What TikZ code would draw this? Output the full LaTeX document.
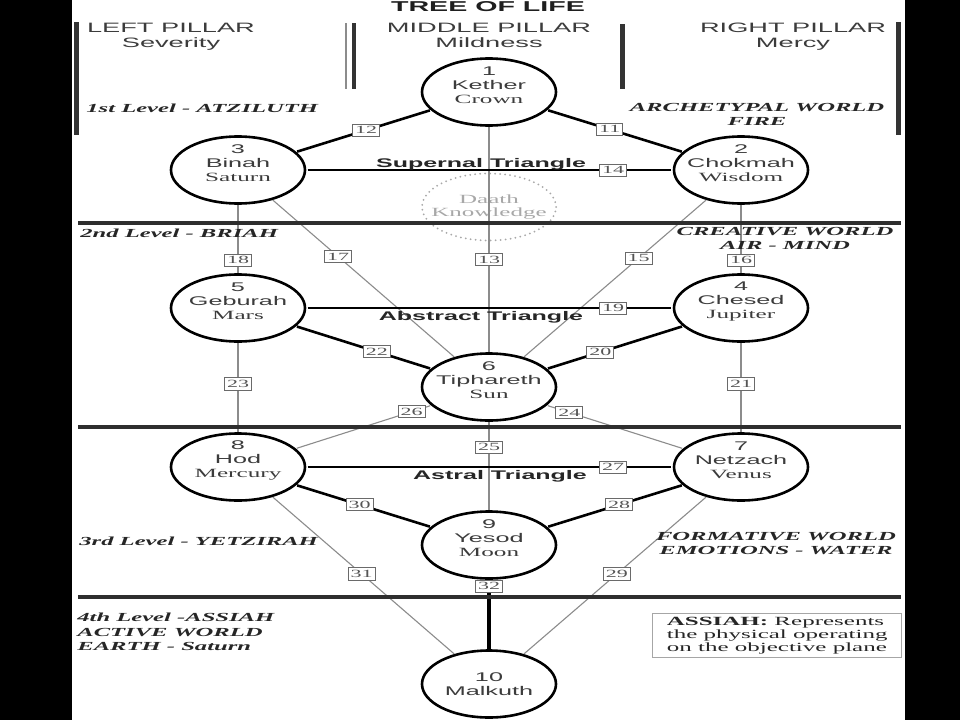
\documentclass[tikz,border=0pt]{standalone}
\usepackage{fontspec}
\setmainfont{Liberation Serif}
\setsansfont{Liberation Sans}
\usepackage{xcolor}
\usepackage{tikz}
\usetikzlibrary{calc, positioning}

\definecolor{inkgray}{HTML}{3C3C3C}
\definecolor{softgray}{HTML}{555555}
\definecolor{pathgray}{HTML}{8C8C8C}
\definecolor{boxgray}{HTML}{6A6A6A}
\definecolor{daathgray}{HTML}{A8A8A8}

\begin{document}
\begin{tikzpicture}[x=1pt, y=-1pt,
    every node/.style={xscale=2},
    sephirah/.style={circle, draw=black, fill=white, line width=2.6pt,
        minimum size=67pt, inner sep=0pt},
    sephname/.style={align=center, inner sep=0pt, text=inkgray,
        font=\sffamily\fontsize{12.6}{14}\selectfont},
    daathring/.style={circle, draw=daathgray, line width=2pt,
        dash pattern=on 0pt off 5pt, line cap=round, minimum size=67pt,
        inner sep=0pt, align=center, text=daathgray,
        font=\rmfamily\fontsize{12.5}{13.5}\selectfont},
    pathno/.style={draw=boxgray, fill=white, line width=0.8pt,
        inner xsep=1.2pt, inner ysep=2.4pt, text=softgray,
        font=\rmfamily\fontsize{11}{11}\selectfont},
    mainpath/.style={line width=2.6pt, black},
    sidepath/.style={line width=1.1pt, pathgray},
    levelline/.style={line width=4.5pt, black!82},
    pillarbar/.style={line width=5pt, black!80},
    pillartitle/.style={align=center, inner sep=0pt, text=inkgray,
        font=\sffamily\fontsize{13.6}{14.5}\selectfont},
    levelname/.style={align=left, inner sep=0pt, text=black!85,
        font=\rmfamily\bfseries\itshape\fontsize{12.3}{14.5}\selectfont},
    worldname/.style={levelname, align=center},
    triname/.style={inner sep=0pt, text=black!85,
        font=\sffamily\bfseries\fontsize{12.5}{14}\selectfont}
]

    % =================================================================
    % 1. PAGE AND MARGINS
    % =================================================================
    \useasboundingbox (0,0) rectangle (960,720);
    \fill[black] (0,0) rectangle (960,720);
    \fill[white] (72,0) rectangle (905,720);

    % =================================================================
    % 2. THE SEPHIROTH
    % =================================================================
    \node[sephirah] (kether)    at (489,92)  {};
    \node[sephirah] (binah)     at (238,170) {};
    \node[sephirah] (chokmah)   at (741,170) {};
    \node[sephirah] (geburah)   at (238,308) {};
    \node[sephirah] (chesed)    at (741,308) {};
    \node[sephirah] (tiphareth) at (489,387) {};
    \node[sephirah] (hod)       at (238,467) {};
    \node[sephirah] (netzach)   at (741,467) {};
    \node[sephirah] (yesod)     at (489,545) {};
    \node[sephirah] (malkuth)   at (489,684) {};
    \node[daathring] (daath)    at (489,207) {Daath\\Knowledge};

    % names written inside the circles
    \node[sephname] (kether-txt)    at ([yshift=6.6pt]kether)    {1\\Kether\\{\rmfamily Crown}};
    \node[sephname] (binah-txt)     at ([yshift=6.6pt]binah)     {3\\Binah\\{\rmfamily Saturn}};
    \node[sephname] (chokmah-txt)   at ([yshift=6.6pt]chokmah)   {2\\Chokmah\\{\rmfamily Wisdom}};
    \node[sephname] (geburah-txt)   at ([yshift=6.6pt]geburah)   {5\\Geburah\\{\rmfamily Mars}};
    \node[sephname] (chesed-txt)    at ([yshift=6.6pt]chesed)    {4\\Chesed\\{\rmfamily Jupiter}};
    \node[sephname] (tiphareth-txt) at ([yshift=6.6pt]tiphareth) {6\\Tiphareth\\{\rmfamily Sun}};
    \node[sephname] (hod-txt)       at ([yshift=6.6pt]hod)       {8\\Hod\\{\rmfamily Mercury}};
    \node[sephname] (netzach-txt)   at ([yshift=6.6pt]netzach)   {7\\Netzach\\{\rmfamily Venus}};
    \node[sephname] (yesod-txt)     at ([yshift=6.6pt]yesod)     {9\\Yesod\\{\rmfamily Moon}};
    \node[sephname] (malkuth-txt)   at (malkuth)                 {10\\Malkuth};

    % =================================================================
    % 3. THE PATHS
    % =================================================================
    % thin grey paths
    \draw[sidepath] (kether) -- node[pathno, pos=.59] (p13) {13} (tiphareth);
    \draw[sidepath] (binah) -- node[pathno, pos=.36] (p17) {17} (tiphareth);
    \draw[sidepath] (chokmah) -- node[pathno, pos=.37] (p15) {15} (tiphareth);
    \draw[sidepath] (binah) -- node[pathno, pos=.81] (p18) {18} (geburah);
    \draw[sidepath] (chokmah) -- node[pathno, pos=.81] (p16) {16} (chesed);
    \draw[sidepath] (geburah) -- node[pathno, pos=.46] (p23) {23} (hod);
    \draw[sidepath] (chesed) -- node[pathno, pos=.46] (p21) {21} (netzach);
    \draw[sidepath] (tiphareth) -- node[pathno, pos=.14] (p26) {26} (hod);
    \draw[sidepath] (tiphareth) -- node[pathno, pos=.16] (p24) {24} (netzach);
    \draw[sidepath] (tiphareth) -- node[pathno, pos=.285] (p25) {25} (yesod);
    \draw[sidepath] (hod) -- node[pathno, pos=.49] (p31) {31} (malkuth);
    \draw[sidepath] (netzach) -- node[pathno, pos=.49] (p29) {29} (malkuth);

    % heavy black paths
    \draw[mainpath] (kether) -- node[pathno, pos=.48] (p12) {12} (binah);
    \draw[mainpath] (kether) -- node[pathno, pos=.46] (p11) {11} (chokmah);
    \draw[mainpath] (binah) -- node[pathno, pos=.84] (p14) {14} (chokmah);
    \draw[mainpath] (geburah) -- node[pathno, pos=.84] (p19) {19} (chesed);
    \draw[mainpath] (geburah) -- node[pathno, pos=.60] (p22) {22} (tiphareth);
    \draw[mainpath] (chesed) -- node[pathno, pos=.61] (p20) {20} (tiphareth);
    \draw[mainpath] (hod) -- node[pathno, pos=.84] (p27) {27} (netzach);
    \draw[mainpath] (hod) -- node[pathno, pos=.47] (p30) {30} (yesod);
    \draw[mainpath] (netzach) -- node[pathno, pos=.47] (p28) {28} (yesod);
    \draw[mainpath, line width=4pt] (yesod) -- node[pathno, pos=.09] (p32) {32} (malkuth);

    % =================================================================
    % 4. LEVEL LINES AND PILLAR BARS
    % =================================================================
    \draw[levelline] (78,223) -- (901,223);
    \draw[levelline] (78,427) -- (901,427);
    \draw[levelline] (78,597) -- (901,597);

    \draw[pillarbar] (76.5,22) -- (76.5,135);
    \draw[line width=2pt, black!45] (346,23) -- (346,89);
    \draw[pillarbar, line width=4pt] (354,23) -- (354,89);
    \draw[pillarbar] (622,24) -- (622,89);
    \draw[pillarbar] (898.5,22) -- (898.5,135);

    % =================================================================
    % 5. TITLES AND TEXTS
    % =================================================================
    \node[inner sep=0pt, anchor=base, text=black!88,
        font=\sffamily\bfseries\fontsize{14.3}{15}\selectfont] (title) at (488,11) {TREE OF LIFE};
    \node[pillartitle, anchor=north] (left-pillar)   at (171,23) {LEFT PILLAR\\Severity};
    \node[pillartitle, anchor=north] (middle-pillar) at (489,23) {MIDDLE PILLAR\\Mildness};
    \node[pillartitle, anchor=north] (right-pillar)  at (793,23) {RIGHT PILLAR\\Mercy};

    \node[levelname, anchor=base west] (level-1) at (86,112) {1st Level - ATZILUTH};
    \node[worldname, anchor=north] (world-1) at (757,103) {ARCHETYPAL WORLD\\FIRE};
    \node[levelname, anchor=base west] (level-2) at (80,237) {2nd Level - BRIAH};
    \node[worldname, anchor=north] (world-2) at (785,227) {CREATIVE WORLD\\AIR - MIND};
    \node[levelname, anchor=base west] (level-3) at (79,545) {3rd Level - YETZIRAH};
    \node[worldname, anchor=north] (world-3) at (776,532) {FORMATIVE WORLD\\EMOTIONS - WATER};
    \node[levelname, anchor=north west] (level-4) at (77,613) {4th Level -ASSIAH\\ACTIVE WORLD\\EARTH - Saturn};

    \node[triname, anchor=base] (supernal) at (481,167) {Supernal Triangle};
    \node[triname, anchor=base] (abstract) at (481,320) {Abstract Triangle};
    \node[triname, anchor=base] (astral)   at (500,479) {Astral Triangle};

    \node[draw=black!35, line width=0.8pt, anchor=north west, align=left,
        inner xsep=7pt, inner ysep=3.5pt, text=black!85,
        font=\rmfamily\fontsize{12.5}{13}\selectfont] (assiah-note) at (652,613)
        {\textbf{ASSIAH:} Represents\\the physical operating\\on the objective plane};

\end{tikzpicture}
\end{document}
